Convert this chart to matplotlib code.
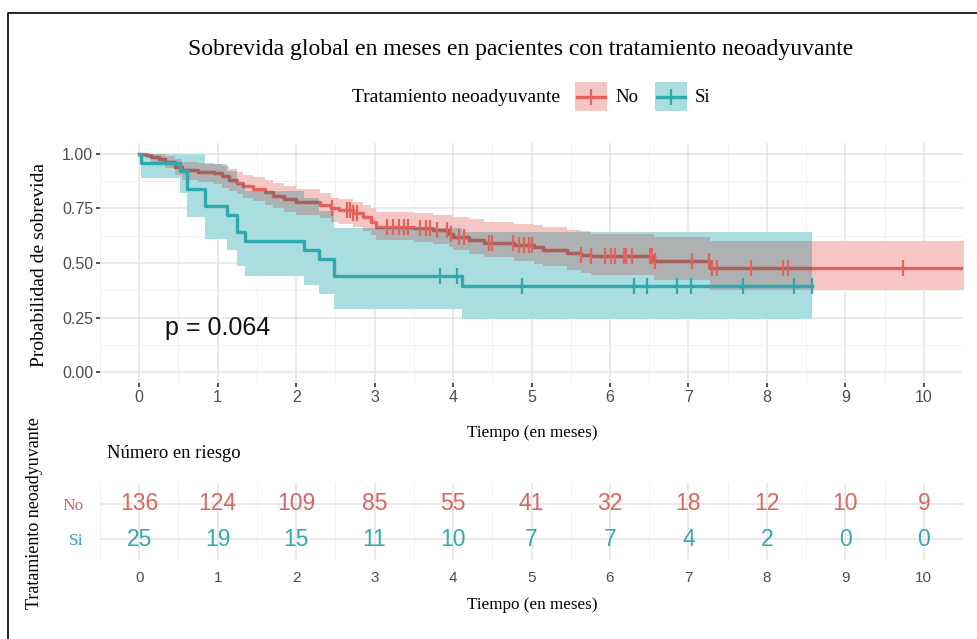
import numpy as np
import matplotlib
matplotlib.use("Agg")
import matplotlib.pyplot as plt
from matplotlib.patches import Rectangle
from matplotlib.lines import Line2D
from matplotlib.ticker import MultipleLocator

# Kaplan-Meier steps (time in months where S changes, new S)
NO_T = [0, 0.08, 0.15, 0.25, 0.33, 0.45, 0.55, 0.75, 0.95, 1.05,
        1.15, 1.25, 1.32, 1.45, 1.6, 1.7, 1.85, 2.0, 2.3, 2.45,
        2.55, 2.72, 2.85, 2.95, 3.02, 3.5, 3.75, 3.95, 4.0, 4.2,
        4.4, 4.78, 5.03, 5.15, 5.45, 5.63, 5.76, 6.56, 7.28]
NO_S = [1.0, 0.993, 0.985, 0.978, 0.963, 0.941, 0.926, 0.919, 0.912, 0.897,
        0.882, 0.868, 0.853, 0.838, 0.824, 0.809, 0.794, 0.780, 0.765, 0.750,
        0.742, 0.727, 0.712, 0.690, 0.667, 0.659, 0.650, 0.635, 0.621, 0.606,
        0.592, 0.584, 0.573, 0.561, 0.546, 0.538, 0.531, 0.508, 0.478]
NO_HI = [1.0, 1.0, 1.0, 0.998, 0.99, 0.975, 0.965, 0.96, 0.955, 0.945,
         0.93, 0.915, 0.905, 0.892, 0.88, 0.866, 0.853, 0.838, 0.822, 0.80,
         0.792, 0.778, 0.765, 0.75, 0.735, 0.728, 0.722, 0.72, 0.71, 0.70,
         0.69, 0.68, 0.672, 0.665, 0.652, 0.645, 0.635, 0.62, 0.60]
NO_LO = [1.0, 0.98, 0.965, 0.955, 0.935, 0.905, 0.88, 0.87, 0.862, 0.845,
         0.83, 0.815, 0.80, 0.784, 0.768, 0.752, 0.736, 0.722, 0.705, 0.69,
         0.68, 0.665, 0.648, 0.628, 0.606, 0.596, 0.588, 0.574, 0.56, 0.543,
         0.527, 0.51, 0.497, 0.486, 0.466, 0.456, 0.447, 0.42, 0.378]
NO_END = 10.6
NO_CENS = [2.46, 2.65, 2.69, 2.73, 2.78, 3.16, 3.24, 3.31, 3.37, 3.43,
           3.58, 3.65, 3.71, 3.80, 3.92, 3.97, 4.07, 4.14, 4.46, 4.50,
           4.77, 4.84, 4.90, 4.97, 5.01, 5.63, 5.76, 5.94, 6.01, 6.07,
           6.18, 6.21, 6.28, 6.51, 6.54, 6.58, 7.04, 7.26, 7.30, 7.36,
           7.80, 8.21, 8.27, 9.74]

SI_T = [0, 0.02, 0.52, 0.61, 0.84, 1.12, 1.25, 1.35, 2.10, 2.29, 2.48, 4.12]
SI_S = [1.0, 0.96, 0.92, 0.84, 0.76, 0.72, 0.64, 0.60, 0.56, 0.52, 0.44, 0.396]
SI_LO = [1.0, 0.89, 0.82, 0.71, 0.61, 0.56, 0.485, 0.44, 0.40, 0.36, 0.29, 0.245]
SI_HI = [1.0, 1.0, 1.0, 1.0, 0.955, 0.92, 0.86, 0.83, 0.80, 0.74, 0.66, 0.644]
SI_END = 8.58
SI_CENS = [3.84, 4.05, 4.88, 6.31, 6.47, 6.85, 7.03, 7.69, 8.34, 8.58]

# number at risk table
RISK_T = [0, 1, 2, 3, 4, 5, 6, 7, 8, 9, 10]
RISK_NO = [136, 124, 109, 85, 55, 41, 32, 18, 12, 10, 9]
RISK_SI = [25, 19, 15, 11, 10, 7, 7, 4, 2, 0, 0]

P_TEXT = "p = 0.064"

RED = "#E4625B"
RED_DARK = "#A4625E"
TEAL = "#2FA9AD"
PINK = "#F5C6C4"
CYAN = "#A9DDE0"
GRAY = "#AEB1B1"
SERIF = "Liberation Serif"
SANS = "Liberation Sans"

W, H = 978, 639


def ext(t, v, end):
    return np.append(t, end), np.append(v, v[-1])


def fx(px):
    return px / W


def fy(py):
    return 1 - py / H


def style_panel(ax):
    for s in ax.spines.values():
        s.set_visible(False)
    ax.set_axisbelow(True)
    ax.grid(True, which="major", color="#E4E4E4", lw=1.1)
    ax.grid(True, which="minor", color="#F0F0F0", lw=0.6)
    ax.tick_params(which="minor", length=0)


plt.rcParams["font.family"] = SANS
fig = plt.figure(figsize=(W / 100, H / 100), dpi=100)

# ---- survival curves ----
ax = fig.add_axes([fx(100), fy(383), fx(863), 240 / H])
style_panel(ax)

tx, lo = ext(SI_T, SI_LO, SI_END)
_, hi = ext(SI_T, SI_HI, SI_END)
nx, nlo = ext(NO_T, NO_LO, NO_END)
_, nhi = ext(NO_T, NO_HI, NO_END)
_, ns = ext(NO_T, NO_S, NO_END)
_, ss = ext(SI_T, SI_S, SI_END)

ax.fill_between(nx, nlo, nhi, step="post", color=PINK, lw=0, zorder=2)
si_band = ax.fill_between(tx, lo, hi, step="post", color=CYAN, lw=0, zorder=2.1)
clip = (si_band.get_paths()[0], si_band.get_transform())
overlap = ax.fill_between(nx, nlo, nhi, step="post", color=GRAY, lw=0, zorder=2.2)
overlap.set_clip_path(*clip)

ax.step(nx, ns, where="post", color=RED, lw=2.4, zorder=3)
dark, = ax.step(nx, ns, where="post", color=RED_DARK, lw=2.4, zorder=3.1)
dark.set_clip_path(*clip)
ax.step(tx, ss, where="post", color=TEAL, lw=2.4, zorder=3.2)

idx = np.searchsorted(NO_T, NO_CENS, side="right") - 1
ax.plot(NO_CENS, np.array(NO_S)[idx], ls="none", marker="|", ms=11, mew=1.6,
        color=RED, zorder=4)
idx = np.searchsorted(SI_T, SI_CENS, side="right") - 1
ax.plot(SI_CENS, np.array(SI_S)[idx], ls="none", marker="|", ms=11, mew=1.6,
        color=TEAL, zorder=4)

ax.text(0.33, 0.2, P_TEXT, fontsize=18, va="center", ha="left", color="#111111")

ax.set_xlim(-0.5, 10.5)
ax.set_ylim(-0.05, 1.05)
ax.set_xticks(range(0, 11))
ax.set_yticks([0, 0.25, 0.5, 0.75, 1.0])
ax.set_yticklabels(["0.00", "0.25", "0.50", "0.75", "1.00"])
ax.xaxis.set_minor_locator(MultipleLocator(0.5))
ax.yaxis.set_minor_locator(MultipleLocator(0.125))
ax.tick_params(which="major", length=3, width=1.2, color="#333333",
               labelcolor="#4D4D4D", labelsize=11.5, pad=2)

# ---- number at risk ----
rk = fig.add_axes([fx(100), fy(560), fx(863), 77 / H])
style_panel(rk)
rk.set_xlim(-0.5, 10.5)
rk.set_ylim(0.4, 2.6)
rk.set_xticks(range(0, 11))
rk.set_yticks([2, 1])
rk.xaxis.set_minor_locator(MultipleLocator(0.5))
rk.tick_params(which="major", length=0, labelcolor="#4D4D4D", labelsize=11)
rk.tick_params(axis="x", pad=8)
rk.tick_params(axis="y", pad=12)
rk.set_yticklabels(["No", "Si"], family=SERIF, fontsize=12.5)
rk.get_yticklabels()[0].set_color("#D4635C")
rk.get_yticklabels()[1].set_color("#2E9EC4")
for t, a, b in zip(RISK_T, RISK_NO, RISK_SI):
    rk.text(t, 2, str(a), ha="center", va="center", fontsize=16.5, color="#D96560")
    rk.text(t, 1, str(b), ha="center", va="center", fontsize=16.5, color="#34AAB0")

# ---- texts ----
fig.text(fx(521), fy(50), "Sobrevida global en meses en pacientes con tratamiento neoadyuvante",
         family=SERIF, fontsize=17, ha="center", va="center")
fig.text(fx(352), fy(97), "Tratamiento neoadyuvante", family=SERIF, fontsize=14,
         ha="left", va="center")
for x0, col, band, lab in [(575, RED, PINK, "No"), (655, TEAL, CYAN, "Si")]:
    fig.add_artist(Rectangle((fx(x0), fy(111)), fx(32), 29 / H,
                             transform=fig.transFigure, color=band, lw=0))
    fig.add_artist(Line2D([fx(x0 + 2), fx(x0 + 30)], [fy(97), fy(97)],
                          transform=fig.transFigure, color=col, lw=2.4))
    fig.add_artist(Line2D([fx(x0 + 16)], [fy(97)], transform=fig.transFigure,
                          marker="|", ms=11, mew=1.6, color=col))
    fig.text(fx(x0 + 40), fy(97), lab, family=SERIF, fontsize=13.5,
             ha="left", va="center")

fig.text(fx(40), fy(265), "Probabilidad de sobrevida", family=SERIF, fontsize=14,
         rotation=90, ha="center", va="center")
fig.text(fx(532), fy(433), "Tiempo (en meses)", family=SERIF, fontsize=12.3,
         ha="center", va="center")
fig.text(fx(107), fy(453), "Número en riesgo", family=SERIF, fontsize=13.4,
         ha="left", va="center")
fig.text(fx(35), fy(513), "Tratamiento neoadyuvante", family=SERIF, fontsize=13,
         rotation=90, ha="center", va="center")
fig.text(fx(532), fy(605), "Tiempo (en meses)", family=SERIF, fontsize=12.3,
         ha="center", va="center")

# frame of the original screenshot
fig.add_artist(Line2D([fx(8), fx(8), 1], [0, fy(13), fy(13)],
                      transform=fig.transFigure, color="black", lw=1.2))

fig.savefig("out.png", dpi=100)
